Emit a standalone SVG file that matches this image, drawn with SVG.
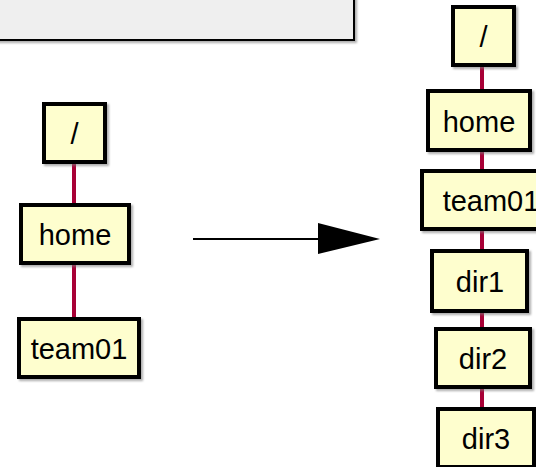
<svg xmlns="http://www.w3.org/2000/svg" width="536" height="467" viewBox="0 0 536 467">
<defs>
<filter id="sh" x="-10%" y="-10%" width="130%" height="130%">
<feDropShadow dx="2" dy="2" stdDeviation="1" flood-color="#777" flood-opacity="0.6"/>
</filter>
</defs>
<style>
.box{fill:#FEFECE;stroke:#000;stroke-width:4;filter:url(#sh)}
.lbl{font-family:"Liberation Sans",Arial,sans-serif;font-size:29px;fill:#000;text-anchor:middle}
.link{stroke:#A80036;stroke-width:4;fill:none}
</style>
<rect x="-5" y="-5" width="359" height="45" fill="#EFEFEF" stroke="#000" stroke-width="2" filter="url(#sh)"/>
<g id="connectors">
<line class="link" x1="74" y1="164" x2="74" y2="203"/>
<line class="link" x1="74" y1="265" x2="74" y2="317"/>
<line class="link" x1="482" y1="67" x2="482" y2="89"/>
<line class="link" x1="482" y1="152" x2="482" y2="169"/>
<line class="link" x1="482" y1="231" x2="482" y2="249"/>
<line class="link" x1="482" y1="313" x2="482" y2="327"/>
<line class="link" x1="482" y1="389" x2="482" y2="407"/>
<line x1="193" y1="239" x2="320" y2="239" stroke="#000" stroke-width="2"/>
<polygon points="318,223 380,239 318,254" fill="#000"/>
</g>
<g id="l-root"><rect class="box" x="44" y="104" width="61" height="58"/><text class="lbl" x="74.5" y="144">/</text></g>
<g id="l-home"><rect class="box" x="21" y="205" width="108" height="58"/><text class="lbl" x="75" y="245">home</text></g>
<g id="l-team01"><rect class="box" x="19" y="319" width="120" height="58"/><text class="lbl" x="79" y="359">team01</text></g>
<g id="r-root"><rect class="box" x="453" y="7" width="61" height="58"/><text class="lbl" x="483.5" y="47">/</text></g>
<g id="r-home"><rect class="box" x="428" y="91" width="102" height="59"/><text class="lbl" x="479" y="132">home</text></g>
<g id="r-team01"><rect class="box" x="422" y="171" width="125" height="58"/><text class="lbl" x="491" y="211">team01</text></g>
<g id="r-dir1"><rect class="box" x="432" y="251" width="95" height="60"/><text class="lbl" x="480" y="292">dir1</text></g>
<g id="r-dir2"><rect class="box" x="436" y="329" width="94" height="58"/><text class="lbl" x="483" y="369">dir2</text></g>
<g id="r-dir3"><rect class="box" x="438" y="409" width="96" height="58"/><text class="lbl" x="486" y="449">dir3</text></g>
</svg>
